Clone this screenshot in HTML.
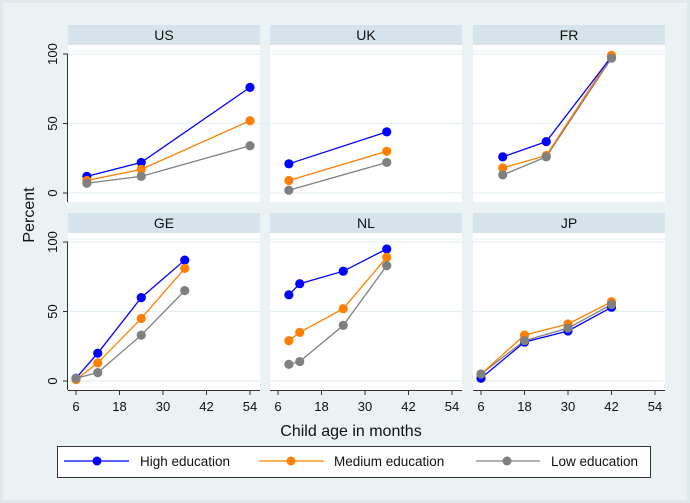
<!DOCTYPE html>
<html><head><meta charset="utf-8"><style>
body{margin:0;background:#fff}
svg{display:block;font-family:"Liberation Sans",Arial,sans-serif}
</style></head><body>
<svg id="c" width="690" height="503" viewBox="0 0 690 503">
<rect x="0" y="0" width="690" height="503" fill="#dfe8ec"/>
<rect x="3" y="3" width="684" height="497" fill="#eaf2f3"/>
<g id="panels"></g>
<text x="351" y="436" font-size="16" text-anchor="middle" fill="#111">Child age in months</text>
<text transform="translate(34,215) rotate(-90)" font-size="16" text-anchor="middle" fill="#111">Percent</text>
<g>
<rect x="57.5" y="446.5" width="593" height="31" fill="#fff" stroke="#333" stroke-width="1"/>
<g><line x1="64" y1="461" x2="129" y2="461" stroke="#0000ff" stroke-width="1.3"/><circle cx="97" cy="461" r="4.5" fill="#0000ff"/><text x="140" y="466" font-size="13.5" fill="#111">High education</text></g>
<g><line x1="259" y1="461" x2="324" y2="461" stroke="#ff7f00" stroke-width="1.3"/><circle cx="291" cy="461" r="4.5" fill="#ff7f00"/><text x="334" y="466" font-size="13.5" fill="#111">Medium education</text></g>
<g><line x1="476" y1="461" x2="540" y2="461" stroke="#808080" stroke-width="1.3"/><circle cx="507" cy="461" r="4.5" fill="#808080"/><text x="551" y="466" font-size="13.5" fill="#111">Low education</text></g>
</g>
</svg>
<script>
const countries = ["US","UK","FR","GE","NL","JP"];
const xUS = [9,24,54], xUK = [9,36], xFR = [12,24,42], xGE = [6,12,24,36], xNL = [9,12,24,36], xJP = [6,18,30,42];
const highUS = [12,22,76], medUS = [9,17,52], lowUS = [7,12,34];
const highUK = [21,44], medUK = [9,30], lowUK = [2,22];
const highFR = [26,37,98], medFR = [18,27,99], lowFR = [13,26,97];
const highGE = [2,20,60,87], medGE = [1,13,45,81], lowGE = [2,6,33,65];
const highNL = [62,70,79,95], medNL = [29,35,52,89], lowNL = [12,14,40,83];
const highJP = [2,28,36,53], medJP = [5,33,41,57], lowJP = [5,29,38,55];
const xTicks = [6,18,30,42,54];
const yTicks = [0,50,100];

const xs = [xUS,xUK,xFR,xGE,xNL,xJP];
const highs = [highUS,highUK,highFR,highGE,highNL,highJP];
const meds = [medUS,medUK,medFR,medGE,medNL,medJP];
const lows = [lowUS,lowUK,lowFR,lowGE,lowNL,lowJP];
const colors = ["#0000ff","#ff7f00","#808080"];
const seriesNames = ["high","medium","low"];
const NS="http://www.w3.org/2000/svg";
const root=document.getElementById('panels');
function mk(tag,attrs,parent){const e=document.createElementNS(NS,tag);for(const k in attrs)e.setAttribute(k,attrs[k]);parent.appendChild(e);return e;}
const colLeft=[68,270,473], rowTop=[25,213];
const pw=192;
for(let i=0;i<6;i++){
  const c=i%3,r=Math.floor(i/3);
  const L=colLeft[c], T=rowTop[r];
  const y0=T+168, y100=T+29, bottom=T+177;
  const xS=v=>L+8+(v-6)*(174/48);
  const yS=v=>y0+(y100-y0)*v/100;
  const g=mk('g',{},root);
  
  
  mk('rect',{x:L,y:T+20,width:pw,height:bottom-T-20,fill:'#fff'},g);
  const hd=mk('rect',{x:L,y:T,width:pw,height:20,fill:'#d6e3ea'},g);
  
  
  const ht=mk('text',{x:L+pw/2,y:T+15,'font-size':14,'text-anchor':'middle',fill:'#111'},g);
  ht.textContent=countries[i];
  
  
  mk('line',{x1:L,x2:L+pw,y1:T+26,y2:T+26,stroke:'#eaf2f3','stroke-width':1},g);
  yTicks.forEach(t=>{mk('line',{x1:L,x2:L+pw,y1:yS(t),y2:yS(t),stroke:'#e6eff3','stroke-width':1.2},g);});
  if(c===0){
    mk('line',{x1:L-0.5,x2:L-0.5,y1:y100,y2:bottom,stroke:'#333','stroke-width':1},g);
    yTicks.forEach(t=>{
      mk('line',{x1:L-5,x2:L,y1:yS(t),y2:yS(t),stroke:'#333'},g);
      const tx=mk('text',{transform:`translate(${L-11},${yS(t)}) rotate(-90)`,'font-size':13,'text-anchor':'middle',fill:'#111'},g);
      tx.textContent=t;
      
      
    });
  }
  if(r===1){
    mk('line',{x1:L,x2:L+pw,y1:bottom+0.5,y2:bottom+0.5,stroke:'#333'},g);
    xTicks.forEach(t=>{
      mk('line',{x1:xS(t),x2:xS(t),y1:bottom,y2:bottom+5,stroke:'#333'},g);
      const tx=mk('text',{x:xS(t),y:bottom+21,'font-size':13,'text-anchor':'middle',fill:'#111'},g);
      tx.textContent=t;
      
      
    });
  }
  const sets=[highs[i],meds[i],lows[i]];
  for(let s=2;s>=0;s--){
    const vals=sets[s];
    const pts=vals.map((v,k)=>xS(xs[i][k])+','+yS(v)).join(' ');
    const pl=mk('polyline',{points:pts,fill:'none',stroke:colors[s],'stroke-width':1.3},g);
    
    
  }
  for(let s=0;s<3;s++){
    sets[s].forEach((v,k)=>{
      const cc=mk('circle',{cx:xS(xs[i][k]),cy:yS(v),r:4.6,fill:colors[s]},g);
      
      
    });
  }
}
</script>
</body></html>
